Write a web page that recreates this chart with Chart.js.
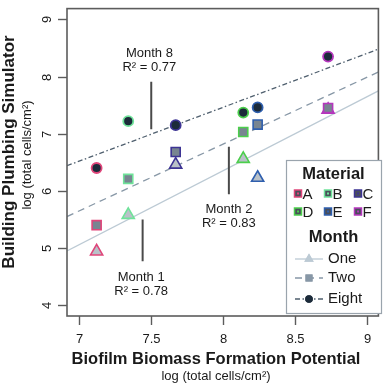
<!DOCTYPE html>
<html>
<head>
<meta charset="utf-8">
<script src="https://cdn.jsdelivr.net/npm/chart.js@4.4.1/dist/chart.umd.min.js"></script>
<style>
  html, body { margin: 0; padding: 0; background: #fff; }
  #chart { display: block; }
</style>
</head>
<body>
<canvas id="chart" width="387" height="385"></canvas>
<script>
// Building simulator vs biofilm potential, one point per material and month

const materials = ['A', 'B', 'C', 'D', 'E', 'F'];
const materialColors = ['#e0457a', '#6fe39a', '#3d3494', '#4ccf4c', '#2f5fae', '#b537bd'];

const biofilmX = [7.12, 7.34, 7.67, 8.14, 8.24, 8.73];
const month1Y = [4.94, 5.58, 6.46, 6.56, 6.23, 7.42];
const month2Y = [5.40, 6.21, 6.68, 7.03, 7.16, 7.45];
const month8Y = [6.40, 7.22, 7.15, 7.37, 7.46, 8.35];

// fitted lines, read at the plot edges
const xMin = 6.914;
const xMax = 9.08;
const fitX = [xMin, xMax];
const fit1Y = [4.95, 7.75];
const fit2Y = [5.55, 8.08];
const fit8Y = [6.44, 8.48];

// callout segments + labels
const noteNames = ['Month 8', 'Month 1', 'Month 2'];
const noteR2 = ['0.77', '0.78', '0.83'];
const noteX = [7.50, 7.44, 8.04];
const noteTop = [7.91, 5.50, 6.77];
const noteBottom = [7.08, 4.77, 5.94];
const noteLabelX = [7.487, 7.43, 8.04];
const noteLabelY = [8.40, 4.49, 5.67];

const xTicks = [7, 7.5, 8, 8.5, 9];
const yTicks = [4, 5, 6, 7, 8, 9];
const yMin = 3.81;
const yMax = 9.19;

const monthNames = ['One', 'Two', 'Eight'];

const FONT = '"Liberation Sans", Arial, sans-serif';
const TEXT = '#1a1a1a';

const pts = (ys) => biofilmX.map((x, i) => ({ x, y: ys[i] }));
const pair = (xs, ys) => xs.map((x, i) => ({ x, y: ys[i] }));

const datasets = [
  {
    label: 'Eight', data: pts(month8Y), pointStyle: 'circle', pointRadius: 5,
    backgroundColor: '#1c2b3a', borderColor: materialColors, borderWidth: 1.8, order: 1
  },
  {
    label: 'Two', data: pts(month2Y), pointStyle: 'rect', pointRadius: 6.4,
    backgroundColor: '#788591', borderColor: materialColors, borderWidth: 1.6, order: 2
  },
  {
    label: 'One', data: pts(month1Y), pointStyle: 'triangle', pointRadius: 7,
    backgroundColor: '#b9c1c8', borderColor: materialColors, borderWidth: 1.6, order: 3
  },
  {
    label: 'fit1', data: pair(fitX, fit1Y), showLine: true, pointRadius: 0,
    borderColor: '#bccad4', borderWidth: 1.3, order: 6
  },
  {
    label: 'fit2', data: pair(fitX, fit2Y), showLine: true, pointRadius: 0,
    borderColor: '#8797a6', borderWidth: 1.3, borderDash: [7, 5], order: 6
  },
  {
    label: 'fit8', data: pair(fitX, fit8Y), showLine: true, pointRadius: 0,
    borderColor: '#4f5f6e', borderWidth: 1.3, borderDash: [5, 2.5, 1.5, 2.5], order: 6
  }
];

noteX.forEach((x, i) => {
  datasets.push({
    label: 'note' + i, data: [{ x, y: noteTop[i] }, { x, y: noteBottom[i] }],
    showLine: true, pointRadius: 0, borderColor: '#4a4a4a', borderWidth: 2, order: 5
  });
});

// frame, ticks, labels, titles, legend
const decor = {
  id: 'decor',
  afterDatasetsDraw(chart) {
    const { ctx, chartArea: a, scales: { x, y } } = chart;
    ctx.save();

    // frame
    ctx.strokeStyle = '#5c5c5c';
    ctx.lineWidth = 1.6;
    ctx.strokeRect(a.left, a.top, a.right - a.left, a.bottom - a.top);

    // ticks
    ctx.lineWidth = 1.4;
    ctx.fillStyle = TEXT;
    ctx.font = '13px ' + FONT;
    ctx.textAlign = 'center';
    ctx.textBaseline = 'middle';
    xTicks.forEach(v => {
      const px = Math.round(x.getPixelForValue(v)) + 0.5;
      ctx.beginPath(); ctx.moveTo(px, a.bottom); ctx.lineTo(px, a.bottom + 9); ctx.stroke();
      ctx.fillText(String(v), px, 339);
    });
    yTicks.forEach(v => {
      const py = Math.round(y.getPixelForValue(v)) + 0.5;
      ctx.beginPath(); ctx.moveTo(a.left - 9, py); ctx.lineTo(a.left, py); ctx.stroke();
      ctx.save();
      ctx.translate(47, py);
      ctx.rotate(-Math.PI / 2);
      ctx.fillText(String(v), 0, 0);
      ctx.restore();
    });

    // axis titles
    ctx.font = 'bold 16.5px ' + FONT;
    ctx.fillText('Biofilm Biomass Formation Potential', 216, 359);
    ctx.font = '13px ' + FONT;
    ctx.fillText('log (total cells/cm\u00B2)', 216, 376);
    ctx.save();
    ctx.translate(9, 152);
    ctx.rotate(-Math.PI / 2);
    ctx.font = 'bold 17px ' + FONT;
    ctx.fillText('Building Plumbing Simulator', 0, 0);
    ctx.restore();
    ctx.save();
    ctx.translate(27, 155);
    ctx.rotate(-Math.PI / 2);
    ctx.font = '13px ' + FONT;
    ctx.fillText('log (total cells/cm\u00B2)', 0, 0);
    ctx.restore();

    // callout labels
    ctx.font = '13px ' + FONT;
    noteNames.forEach((name, i) => {
      const px = x.getPixelForValue(noteLabelX[i]);
      const py = y.getPixelForValue(noteLabelY[i]);
      ctx.fillText(name, px, py);
      ctx.fillText('R\u00B2 = ' + noteR2[i], px, py + 14);
    });

    // legend box
    const bx = 286, by = 160, bw = 95, bh = 153;
    ctx.fillStyle = '#fff';
    ctx.fillRect(bx, by, bw, bh);
    ctx.strokeStyle = '#9aa4ad';
    ctx.lineWidth = 1.2;
    ctx.strokeRect(bx + 0.5, by + 0.5, bw, bh);

    ctx.fillStyle = TEXT;
    ctx.font = 'bold 16.5px ' + FONT;
    ctx.textAlign = 'center';
    ctx.fillText('Material', 333.5, 174);
    ctx.fillText('Month', 333.5, 237);

    ctx.font = '15px ' + FONT;
    ctx.textAlign = 'left';
    const colX = [294.5, 324.5, 354.5];
    materials.forEach((m, i) => {
      const cx = colX[i % 3];
      const cy = i < 3 ? 193.5 : 211.5;
      ctx.fillStyle = '#4a4f5a';
      ctx.fillRect(cx, cy - 3.5, 7, 7);
      ctx.strokeStyle = materialColors[i];
      ctx.lineWidth = 1.5;
      ctx.strokeRect(cx, cy - 3.5, 7, 7);
      ctx.fillStyle = materialColors[i];
      ctx.fillRect(cx + 2.5, cy - 1, 2, 2);
      ctx.fillStyle = TEXT;
      ctx.fillText(m, cx + 8, cy + 1);
    });

    const rowY = [259, 278, 299];
    const sample = [datasets[3], datasets[4], datasets[5]];
    const marker = [datasets[2], datasets[1], datasets[0]];
    monthNames.forEach((name, i) => {
      const ly = rowY[i];
      ctx.strokeStyle = sample[i].borderColor;
      ctx.lineWidth = 1.3;
      ctx.setLineDash(sample[i].borderDash || []);
      ctx.beginPath(); ctx.moveTo(295, ly); ctx.lineTo(323, ly); ctx.stroke();
      ctx.setLineDash([]);
      ctx.fillStyle = i === 2 ? '#1c2b3a' : sample[i].borderColor;
      Chart.helpers.drawPoint(ctx, {
        pointStyle: marker[i].pointStyle,
        radius: i === 0 ? 5.5 : i === 1 ? 5 : 3.8,
        borderWidth: 0
      }, 309, ly);
      ctx.fill();
      ctx.fillStyle = TEXT;
      ctx.fillText(name, 328, ly);
    });

    ctx.restore();
  }
};

new Chart(document.getElementById('chart'), {
  type: 'scatter',
  data: { datasets },
  options: {
    responsive: false,
    animation: false,
    events: [],
    layout: { padding: { top: 3, right: 2, left: 0, bottom: 0 } },
    plugins: { legend: { display: false }, tooltip: { enabled: false } },
    scales: {
      x: {
        type: 'linear', min: xMin, max: xMax,
        grid: { display: false }, border: { display: false }, ticks: { display: false },
        afterFit: (s) => { s.height = 69; }
      },
      y: {
        type: 'linear', min: yMin, max: yMax,
        grid: { display: false }, border: { display: false }, ticks: { display: false },
        afterFit: (s) => { s.width = 67; }
      }
    }
  },
  plugins: [decor]
});
</script>
</body>
</html>
